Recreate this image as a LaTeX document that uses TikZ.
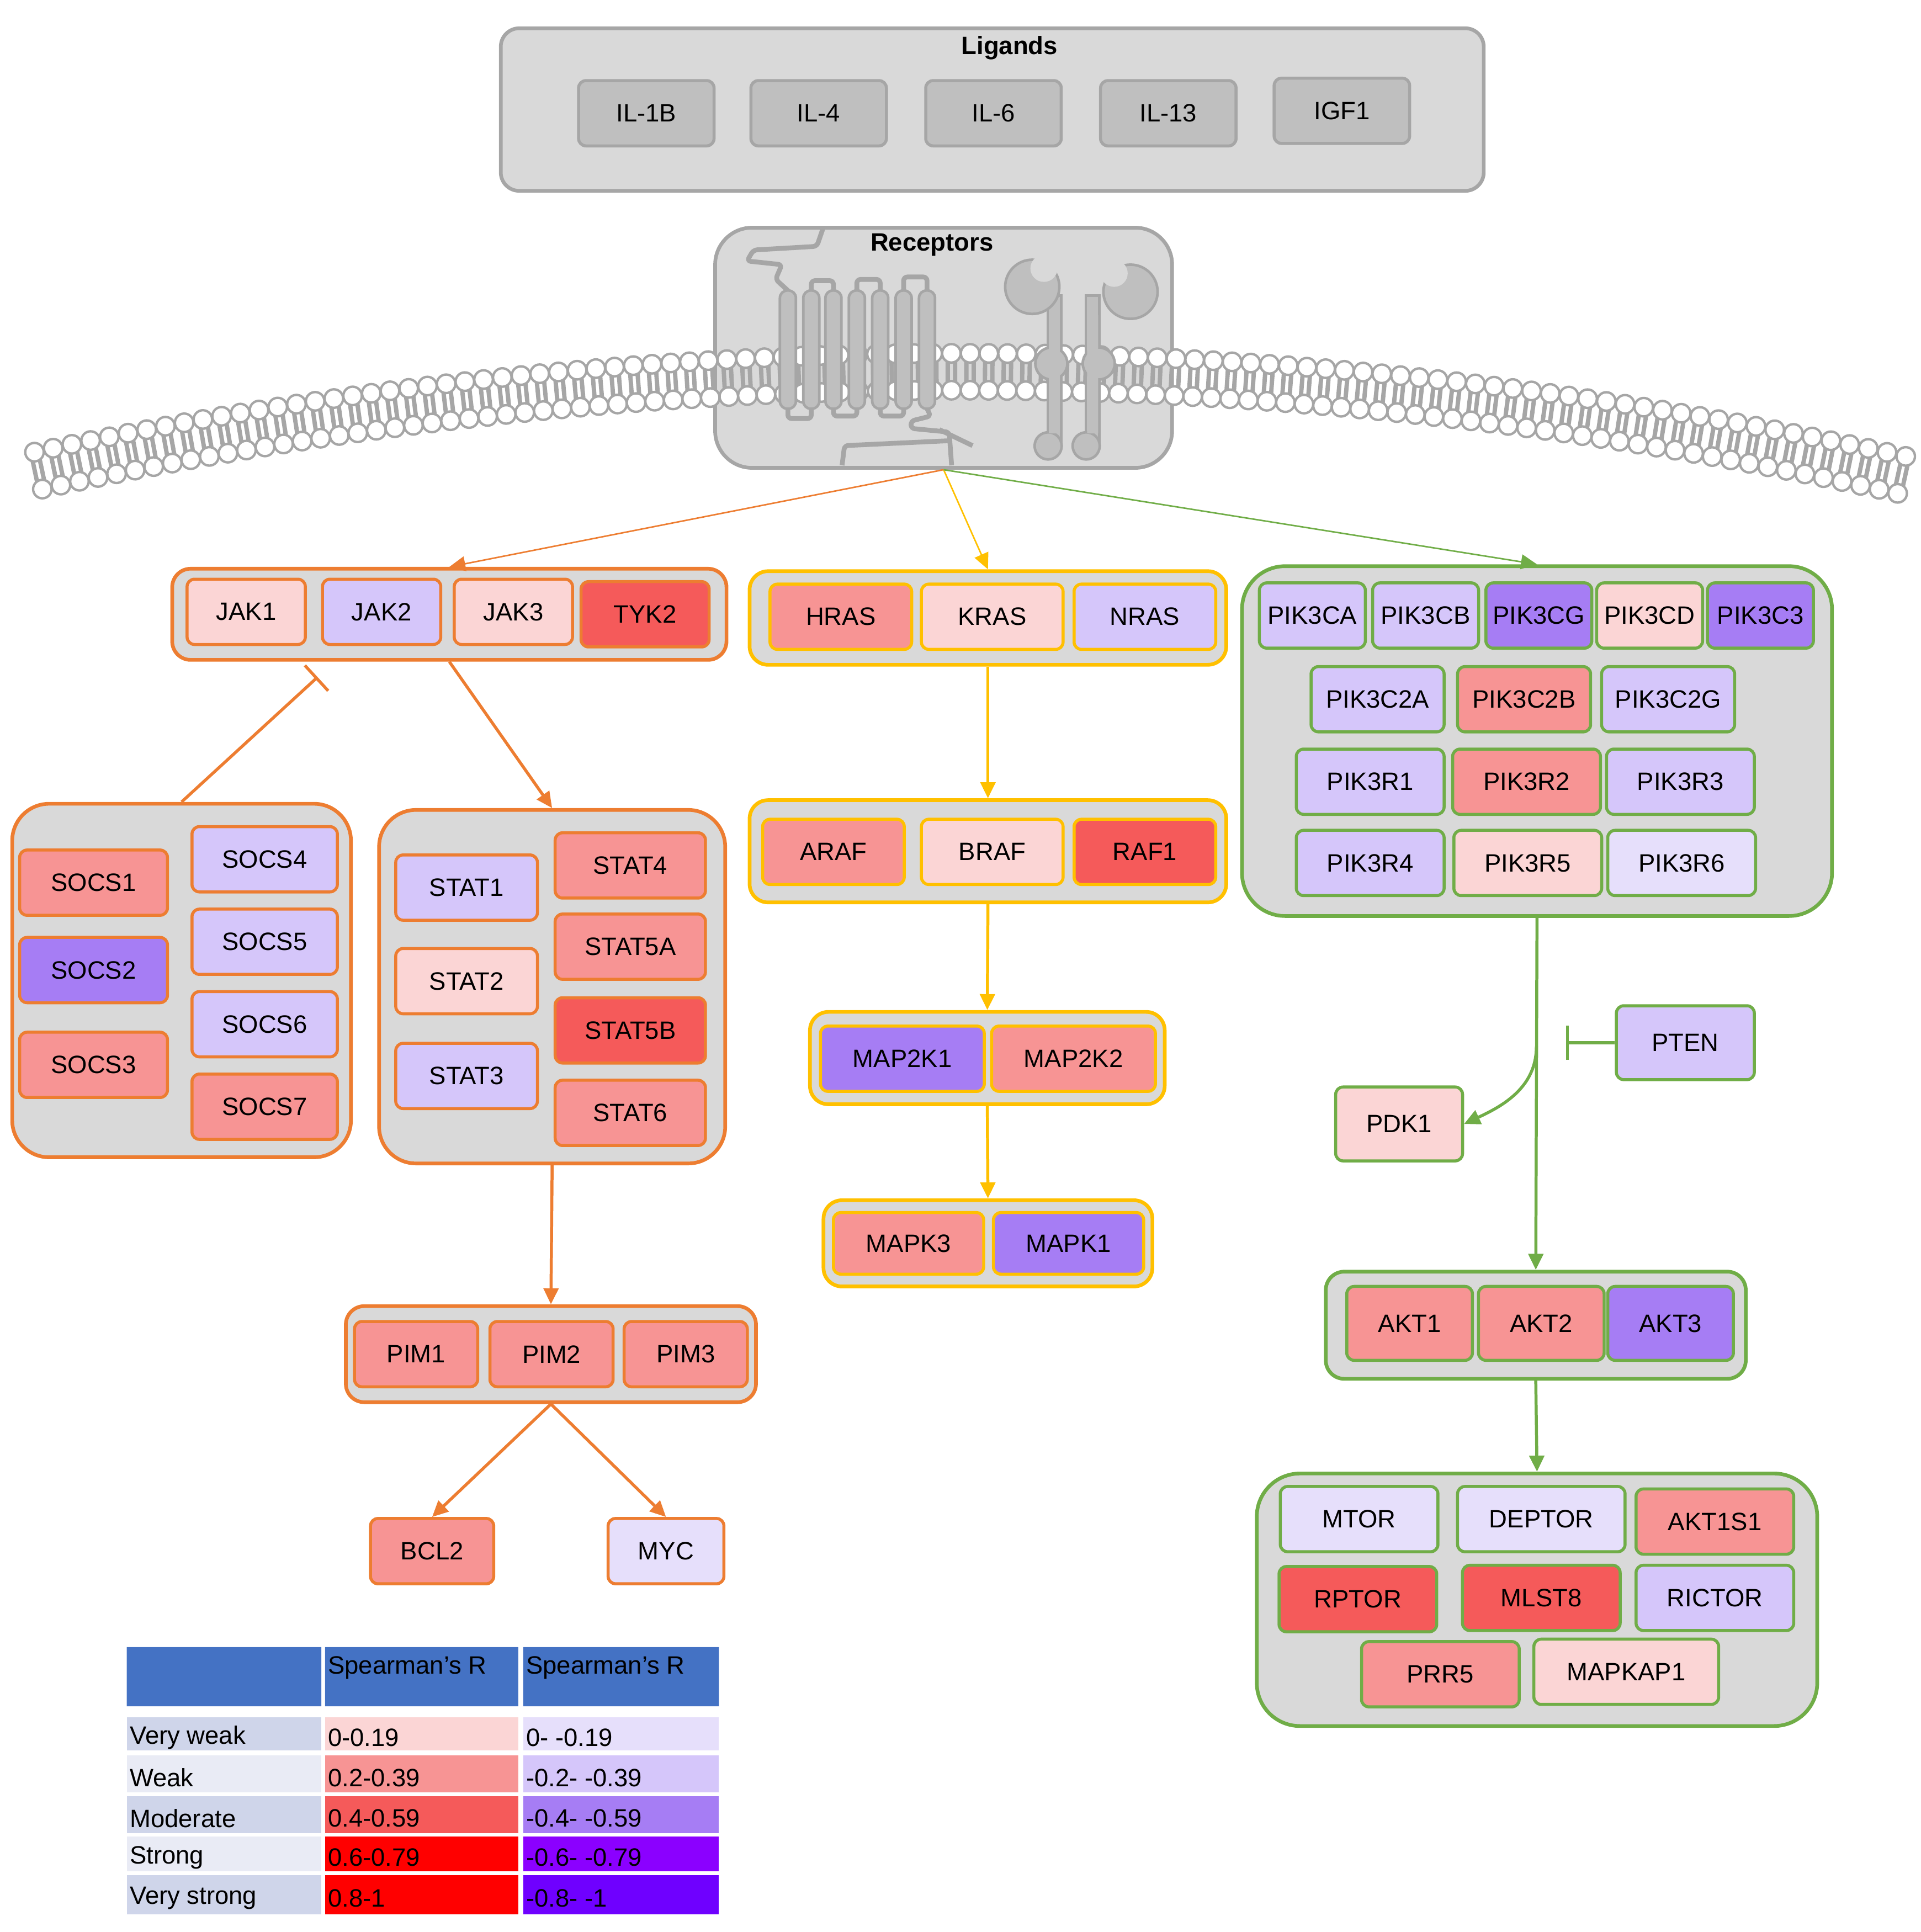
\documentclass[tikz,border=0pt]{standalone}
\usepackage{fontspec}
\setmainfont{Liberation Sans}
\usetikzlibrary{arrows.meta}
\definecolor{grpfill}{HTML}{D9D9D9}
\definecolor{ligfill}{HTML}{BFBFBF}
\definecolor{greyln}{HTML}{A6A6A6}
\definecolor{orng}{HTML}{ED7D31}
\definecolor{yllw}{HTML}{FFC000}
\definecolor{grn}{HTML}{70AD47}
\definecolor{vwP}{HTML}{FBD5D5}
\definecolor{wP}{HTML}{F79494}
\definecolor{mP}{HTML}{F55A5A}
\definecolor{sP}{HTML}{FF0000}
\definecolor{vwN}{HTML}{E6DFFB}
\definecolor{wN}{HTML}{D5C6FA}
\definecolor{mN}{HTML}{A67DF4}
\definecolor{sN}{HTML}{8B00FF}
\definecolor{vsN}{HTML}{6F00FF}
\definecolor{hdr}{HTML}{4472C4}
\definecolor{lblA}{HTML}{CFD5EA}
\definecolor{lblB}{HTML}{E9EBF5}
\begin{document}
\begin{tikzpicture}[x=0.01cm,y=-0.01cm,
  font=\fontsize{5.8}{6.5}\selectfont,
  grp/.style={draw=#1,fill=grpfill,line width=0.85pt,rounded corners=0.15cm},
  gene/.style={draw=#1,line width=0.7pt,rounded corners=0.06cm,minimum height=0.53cm,inner sep=0pt},
  lig/.style={draw=greyln,fill=ligfill,line width=0.7pt,rounded corners=0.06cm,minimum width=1.1cm,minimum height=0.53cm},
  conn/.style={draw=#1,line width=0.7pt,-{Triangle[length=0.13cm,width=0.12cm]}},
  thin/.style={draw=#1,line width=0.35pt,-{Triangle[length=0.13cm,width=0.12cm]}},
  inh/.style={draw=#1,line width=0.7pt,-{Bar[width=0.28cm]}},
  cell/.style={anchor=north west,inner sep=0.5pt},
  recp/.style={draw=greyln,fill=ligfill,line width=0.6pt}]
\useasboundingbox (0,0) rectangle (1560,1569.4);

% ---- ligands
\node[grp=greyln,minimum width=7.98cm,minimum height=1.32cm] (ligg) at (806,89) {};
\node[font=\fontsize{5.8}{6.5}\selectfont\bfseries] (ligt) at (820,39) {Ligands};
\node[lig] (il1b) at (525,92) {IL-1B};
\node[lig] (il4) at (665,92) {IL-4};
\node[lig] (il6) at (807,92) {IL-6};
\node[lig] (il13) at (949,92) {IL-13};
\node[lig] (igf1) at (1090,90) {IGF1};

% ---- receptors box + membrane
\node[grp=greyln,minimum width=3.71cm,minimum height=1.95cm,rounded corners=0.3cm] (rec) at (766.5,282.5) {};
\foreach \i in {0,...,100} {
  \pgfmathsetmacro\xx{28+15.2*\i}
  \pgfmathsetmacro\mm{2.84*(\xx-780)/10000}
  \pgfmathsetmacro\yy{287+1.42*((\xx-780)/100)^2}
  \pgfmathsetmacro\bx{\xx-30*\mm}
  \pgfmathsetmacro\by{\yy+30}
  \draw[greyln,line width=1pt] (\xx-3,\yy) -- (\bx-3,\by) (\xx+3,\yy) -- (\bx+3,\by);
  \draw[greyln,fill=white,line width=0.55pt] (\xx,\yy) circle[radius=0.075cm] (\bx,\by) circle[radius=0.075cm];
}
\node[font=\fontsize{5.8}{6.5}\selectfont\bfseries] (rect) at (757,199) {Receptors};
% GPCR
\draw[greyln,line width=1.1pt,line join=round,rounded corners=0.03cm]
  (668.6,185.3) -- (663.5,200.1) -- (612,203.1) -- (606.8,212) -- (635.1,215) -- (630,226.9) -- (640,236)
  (659,236) -- (659,228) -- (677,228) -- (677,236)
  (696,236) -- (696,227) -- (715,227) -- (715,236)
  (734,236) -- (734,225) -- (753,225) -- (753,236)
  (640,332) -- (640,340) -- (659,340) -- (659,332)
  (677,332) -- (677,338) -- (696,338) -- (696,332)
  (715,332) -- (715,338) -- (734,338) -- (734,332)
  (753,332) -- (756,338) -- (740,342) -- (740,348) -- (771,351) -- (773,378)
  (763,349) -- (790,362)
  (684,378) -- (686,362) -- (771,358);
\foreach \hx in {640,659,677,696,715,734,753}
  \draw[recp,rounded corners=0.06cm] (\hx-6.5,236) rectangle (\hx+6.5,332);
% RTK dimer
\draw[recp] (851,240) rectangle (862,362);
\draw[recp] (882,240) rectangle (893,362);
\draw[recp] (838.5,233) circle[radius=0.22cm];
\fill[grpfill] (848,218) circle[radius=0.11cm];
\draw[recp] (918.3,237) circle[radius=0.22cm];
\fill[grpfill] (905,222) circle[radius=0.11cm];
\draw[recp] (854,295.3) circle[radius=0.13cm];
\draw[recp] (892.5,295.3) circle[radius=0.13cm];
\draw[recp] (851.4,362.2) circle[radius=0.11cm];
\draw[recp] (882.3,362.2) circle[radius=0.11cm];
\fill[ligfill] (852,252) rectangle (861,352) (883,256) rectangle (892,352);

% ---- JAK
\node[grp=orng,minimum width=4.5cm,minimum height=0.74cm] (jakg) at (365,499) {};
\node[gene=orng,fill=vwP,minimum width=0.96cm] (jak1) at (200,497) {JAK1};
\node[gene=orng,fill=wN,minimum width=0.96cm] (jak2) at (310,497) {JAK2};
\node[gene=orng,fill=vwP,minimum width=0.96cm] (jak3) at (417,497) {JAK3};
\node[gene=orng,fill=mP,minimum width=1.04cm] (tyk2) at (524,499) {TYK2};

% ---- SOCS
\node[grp=orng,minimum width=2.75cm,minimum height=2.87cm,rounded corners=0.3cm] (socsg) at (147.5,796.5) {};
\node[gene=orng,fill=wP,minimum width=1.2cm] (socs1) at (76,717) {SOCS1};
\node[gene=orng,fill=mN,minimum width=1.2cm] (socs2) at (76,788) {SOCS2};
\node[gene=orng,fill=wP,minimum width=1.2cm] (socs3) at (76,865) {SOCS3};
\node[gene=orng,fill=wN,minimum width=1.18cm] (socs4) at (215,698) {SOCS4};
\node[gene=orng,fill=wN,minimum width=1.18cm] (socs5) at (215,765) {SOCS5};
\node[gene=orng,fill=wN,minimum width=1.18cm] (socs6) at (215,832) {SOCS6};
\node[gene=orng,fill=wP,minimum width=1.18cm] (socs7) at (215,899) {SOCS7};

% ---- STAT
\node[grp=orng,minimum width=2.81cm,minimum height=2.87cm,rounded corners=0.3cm] (statg) at (448.5,801.5) {};
\node[gene=orng,fill=wN,minimum width=1.15cm] (stat1) at (379,721) {STAT1};
\node[gene=orng,fill=vwP,minimum width=1.15cm] (stat2) at (379,797) {STAT2};
\node[gene=orng,fill=wN,minimum width=1.15cm] (stat3) at (379,874) {STAT3};
\node[gene=orng,fill=wP,minimum width=1.22cm] (stat4) at (512,703) {STAT4};
\node[gene=orng,fill=wP,minimum width=1.22cm] (stat5a) at (512,769) {STAT5A};
\node[gene=orng,fill=mP,minimum width=1.22cm] (stat5b) at (512,837) {STAT5B};
\node[gene=orng,fill=wP,minimum width=1.22cm] (stat6) at (512,904) {STAT6};

% ---- PIM
\node[grp=orng,minimum width=3.33cm,minimum height=0.78cm] (pimg) at (447.5,1100) {};
\node[gene=orng,fill=wP,minimum width=1cm] (pim1) at (338,1100) {PIM1};
\node[gene=orng,fill=wP,minimum width=1cm] (pim2) at (448,1100) {PIM2};
\node[gene=orng,fill=wP,minimum width=1cm] (pim3) at (557,1100) {PIM3};
\node[gene=orng,fill=wP,minimum width=1cm] (bcl2) at (351,1260) {BCL2};
\node[gene=orng,fill=vwN,minimum width=0.94cm] (myc) at (541,1260) {MYC};

% ---- RAS / RAF / MEK / ERK
\node[grp=yllw,minimum width=3.87cm,minimum height=0.76cm] (rasg) at (802.5,502) {};
\node[gene=yllw,fill=wP,minimum width=1.15cm] (hras) at (683,501) {HRAS};
\node[gene=yllw,fill=vwP,minimum width=1.15cm] (kras) at (806,501) {KRAS};
\node[gene=yllw,fill=wN,minimum width=1.15cm] (nras) at (930,501) {NRAS};
\node[grp=yllw,minimum width=3.87cm,minimum height=0.83cm] (rafg) at (802.5,691.5) {};
\node[gene=yllw,fill=wP,minimum width=1.15cm] (araf) at (677,692) {ARAF};
\node[gene=yllw,fill=vwP,minimum width=1.15cm] (braf) at (806,692) {BRAF};
\node[gene=yllw,fill=mP,minimum width=1.15cm] (raf1) at (930,692) {RAF1};
\node[grp=yllw,minimum width=2.88cm,minimum height=0.75cm] (mekg) at (802,859.5) {};
\node[gene=yllw,fill=mN,minimum width=1.33cm] (map2k1) at (733,860) {MAP2K1};
\node[gene=yllw,fill=wP,minimum width=1.33cm] (map2k2) at (872,860) {MAP2K2};
\node[grp=yllw,minimum width=2.67cm,minimum height=0.7cm] (erkg) at (802.5,1010) {};
\node[gene=yllw,fill=wP,minimum width=1.22cm,minimum height=0.5cm] (mapk3) at (738,1010) {MAPK3};
\node[gene=yllw,fill=mN,minimum width=1.22cm,minimum height=0.5cm] (mapk1) at (868,1010) {MAPK1};

% ---- PI3K
\node[grp=grn,minimum width=4.79cm,minimum height=2.84cm,rounded corners=0.35cm] (pig) at (1248.5,602) {};
\node[gene=grn,fill=wN,minimum width=0.86cm] (pik3ca) at (1066,500) {PIK3CA};
\node[gene=grn,fill=wN,minimum width=0.86cm] (pik3cb) at (1158,500) {PIK3CB};
\node[gene=grn,fill=mN,minimum width=0.86cm] (pik3cg) at (1250,500) {PIK3CG};
\node[gene=grn,fill=vwP,minimum width=0.86cm] (pik3cd) at (1340,500) {PIK3CD};
\node[gene=grn,fill=mN,minimum width=0.86cm] (pik3c3) at (1430,500) {PIK3C3};
\node[gene=grn,fill=wN,minimum width=1.08cm] (pik3c2a) at (1119,568) {PIK3C2A};
\node[gene=grn,fill=wP,minimum width=1.08cm] (pik3c2b) at (1238,568) {PIK3C2B};
\node[gene=grn,fill=wN,minimum width=1.08cm] (pik3c2g) at (1355,568) {PIK3C2G};
\node[gene=grn,fill=wN,minimum width=1.2cm] (pik3r1) at (1113,635) {PIK3R1};
\node[gene=grn,fill=wP,minimum width=1.2cm] (pik3r2) at (1240,635) {PIK3R2};
\node[gene=grn,fill=wN,minimum width=1.2cm] (pik3r3) at (1365,635) {PIK3R3};
\node[gene=grn,fill=wN,minimum width=1.2cm] (pik3r4) at (1113,701) {PIK3R4};
\node[gene=grn,fill=vwP,minimum width=1.2cm] (pik3r5) at (1241,701) {PIK3R5};
\node[gene=grn,fill=vwN,minimum width=1.2cm] (pik3r6) at (1366,701) {PIK3R6};

\node[gene=grn,fill=wN,minimum width=1.12cm,minimum height=0.6cm] (pten) at (1369,847) {PTEN};
\node[gene=grn,fill=vwP,minimum width=1.03cm,minimum height=0.6cm] (pdk1) at (1136.5,913) {PDK1};

% ---- AKT
\node[grp=grn,minimum width=3.41cm,minimum height=0.87cm] (aktg) at (1247.5,1076.5) {};
\node[gene=grn,fill=wP,minimum width=1.02cm,minimum height=0.6cm] (akt1) at (1145,1075) {AKT1};
\node[gene=grn,fill=wP,minimum width=1.02cm,minimum height=0.6cm] (akt2) at (1252,1075) {AKT2};
\node[gene=grn,fill=mN,minimum width=1.02cm,minimum height=0.6cm] (akt3) at (1357,1075) {AKT3};

% ---- mTOR
\node[grp=grn,minimum width=4.55cm,minimum height=2.05cm,rounded corners=0.35cm] (mtorg) at (1248.5,1299.5) {};
\node[gene=grn,fill=vwN,minimum width=1.28cm] (mtor) at (1104,1234) {MTOR};
\node[gene=grn,fill=vwN,minimum width=1.36cm] (deptor) at (1252,1234) {DEPTOR};
\node[gene=grn,fill=wP,minimum width=1.28cm] (akt1s1) at (1393,1236) {AKT1S1};
\node[gene=grn,fill=mP,minimum width=1.28cm] (rptor) at (1103,1299) {RPTOR};
\node[gene=grn,fill=mP,minimum width=1.28cm] (mlst8) at (1252,1298) {MLST8};
\node[gene=grn,fill=wN,minimum width=1.28cm] (rictor) at (1393,1298) {RICTOR};
\node[gene=grn,fill=wP,minimum width=1.28cm] (prr5) at (1170,1360) {PRR5};
\node[gene=grn,fill=vwP,minimum width=1.5cm] (mapkap1) at (1321,1358) {MAPKAP1};

% ---- connectors
\draw[thin=orng] (rec.south) -- (jakg.north);
\draw[thin=yllw] (rec.south) -- (rasg.north);
\draw[thin=grn] (rec.south) -- (pig.north);
\coordinate (socsend) at (258,550);
\draw[inh=orng] (socsg.north) -- (socsend);
\draw[conn=orng] (jakg.south) -- (statg.north);
\draw[conn=orng] (statg.south) -- (pimg.north);
\draw[conn=orng] (pimg.south) -- (bcl2.north);
\draw[conn=orng] (pimg.south) -- (myc.north);
\draw[conn=yllw] (rasg.south) -- (rafg.north);
\draw[conn=yllw] (rafg.south) -- (mekg.north);
\draw[conn=yllw] (mekg.south) -- (erkg.north);
\draw[conn=grn] (pig.south) -- (aktg.north);
\coordinate (brk) at (1248,850);
\draw[conn=grn] (brk) to[out=-90,in=25] (pdk1.east);
\coordinate (ptenend) at (1272,847);
\draw[inh=grn] (pten.west) -- (ptenend);
\draw[conn=grn] (aktg.south) -- (mtorg.north);

% ---- legend
\begin{scope}[font=\fontsize{5.8}{6.5}\selectfont]
\fill[hdr] (103,1338) rectangle (261,1386) (264,1338) rectangle (421,1386) (425,1338) rectangle (584,1386);
\node[cell] (h2) at (264,1343) {Spearman’s R};
\node[cell] (h3) at (425,1343) {Spearman’s R};
\foreach \ya/\yb/\lab/\lc/\pc/\ptxt/\nc/\ntxt [count=\k] in
  {1395/1422/Very weak/lblA/vwP/0-0.19/vwN/0- -0.19,
   1426/1456/Weak/lblB/wP/0.2-0.39/wN/-0.2- -0.39,
   1459/1489/Moderate/lblA/mP/0.4-0.59/mN/-0.4- -0.59,
   1492/1520/Strong/lblB/sP/0.6-0.79/sN/-0.6- -0.79,
   1523/1555/Very strong/lblA/sP/0.8-1/vsN/-0.8- -1} {
  \fill[\lc] (103,\ya) rectangle (261,\yb);
  \fill[\pc] (264,\ya) rectangle (421,\yb);
  \fill[\nc] (425,\ya) rectangle (584,\yb);
  \node[anchor=west,inner sep=0.5pt] (l\k) at (103,{(\ya+\yb)/2+3}) {\lab};
  \node[anchor=west,inner sep=0.5pt] (p\k) at (264,{(\ya+\yb)/2+3}) {\ptxt};
  \node[anchor=west,inner sep=0.5pt] (n\k) at (425,{(\ya+\yb)/2+3}) {\ntxt};
}
\end{scope}
\end{tikzpicture}
\end{document}
